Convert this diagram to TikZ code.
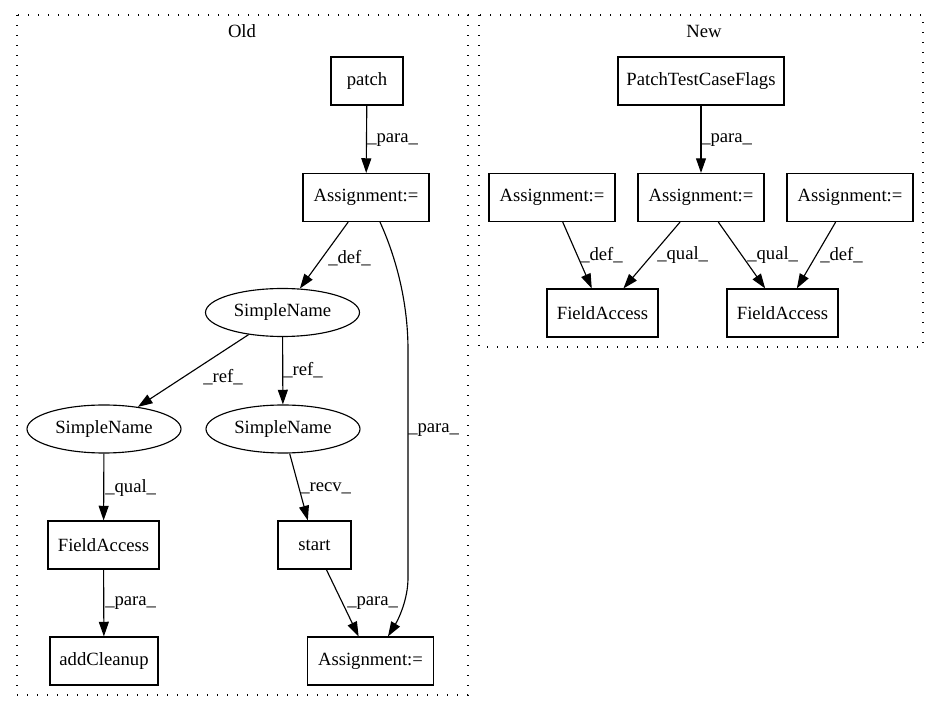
\documentclass[tikz,border=0pt]{standalone}
\usepackage{fontspec}
\setmainfont{Liberation Serif}
\usetikzlibrary{arrows.meta,shapes.geometric}
\begin{document}
\begin{tikzpicture}[x=0.75pt,y=-0.75pt,
  txt/.style={font=\fontsize{14}{16}\selectfont},
  box/.style={draw,line width=0.85pt,minimum height=36pt,inner sep=0pt,txt},
  ell/.style={ellipse,draw,line width=0.85pt,minimum width=115.5pt,minimum height=36pt,inner sep=0pt,txt},
  edge/.style={-{Triangle[length=11pt,width=7.5pt]},line width=0.85pt},
  lab/.style={anchor=west,inner sep=0pt,txt},
  cluster/.style={draw,line width=1pt,dash pattern=on 1pt off 6.5pt}]
\useasboundingbox (0,0) rectangle (940,712);
% clusters
\draw[cluster] (17,15) rectangle (468,695);
\draw[cluster] (479,15) rectangle (923,347);
\node[txt] (oldlab) at (242,31) {Old};
\node[txt] (newlab) at (704,31) {New};
% Old nodes
\node[box,minimum width=54pt] (patch) at (367,81) {patch};
\node[box,minimum width=94.5pt] (A1) at (366,197.5) {Assignment:=};
\node[ell] (SN) at (282.5,312.5) {SimpleName};
\node[ell] (SNL) at (104,429) {SimpleName};
\node[ell] (SNR) at (283,429) {SimpleName};
\node[box,minimum width=83.25pt] (FA) at (103.5,545) {FieldAccess};
\node[box,minimum width=54.75pt] (start) at (314.5,545) {start};
\node[box,minimum width=81pt] (addC) at (104,661) {addCleanup};
\node[box,minimum width=94pt] (A2) at (370.5,661) {Assignment:=};
% New nodes
\node[box,minimum width=124.5pt] (PTCF) at (701,81) {PatchTestCaseFlags};
\node[box,minimum width=94.5pt] (AL) at (552,197.5) {Assignment:=};
\node[box,minimum width=94.5pt] (AM) at (701,197.5) {Assignment:=};
\node[box,minimum width=94.5pt] (AR) at (850,197.5) {Assignment:=};
\node[box,minimum width=83.25pt] (FAL) at (602.5,313) {FieldAccess};
\node[box,minimum width=83.25pt] (FAR) at (782.5,313) {FieldAccess};
% Old edges
\draw[edge] (patch) -- (A1);
\draw[edge] (A1) -- (SN);
\draw[edge] ([xshift=10.5pt]A1.south) .. controls (395,255) and (408,300) .. (408,350) -- (408,578) .. controls (408,600) and (398,620) .. ([xshift=13.1pt]A2.north);
\draw[edge] (SN) -- (SNL);
\draw[edge] (SN) -- (SNR);
\draw[edge] (SNL) -- (FA);
\draw[edge] (SNR) -- (start);
\draw[edge] (FA) -- (addC);
\draw[edge] (start) -- (A2);
% New edges
\draw[edge] (PTCF) -- (AM);
\draw[edge] (AL) -- (FAL);
\draw[edge] (AM) -- (FAL);
\draw[edge] (AM) -- (FAR);
\draw[edge] (AR) -- (FAR);
% edge labels
\node[lab] (l1) at (367,140) {\_para\_};
\node[lab] (l2) at (328,258) {\_def\_};
\node[lab] (l3) at (203,377) {\_ref\_};
\node[lab] (l4) at (283,370) {\_ref\_};
\node[lab] (l5) at (408,430) {\_para\_};
\node[lab] (l6) at (105,488) {\_qual\_};
\node[lab] (l7) at (300,488) {\_recv\_};
\node[lab] (l8) at (105,603) {\_para\_};
\node[lab] (l9) at (347,603) {\_para\_};
\node[lab] (n1) at (701,140) {\_para\_};
\node[lab] (n2) at (580,255) {\_def\_};
\node[lab] (n3) at (657,255) {\_qual\_};
\node[lab] (n4) at (747,255) {\_qual\_};
\node[lab] (n5) at (820,255) {\_def\_};
\end{tikzpicture}
\end{document}
